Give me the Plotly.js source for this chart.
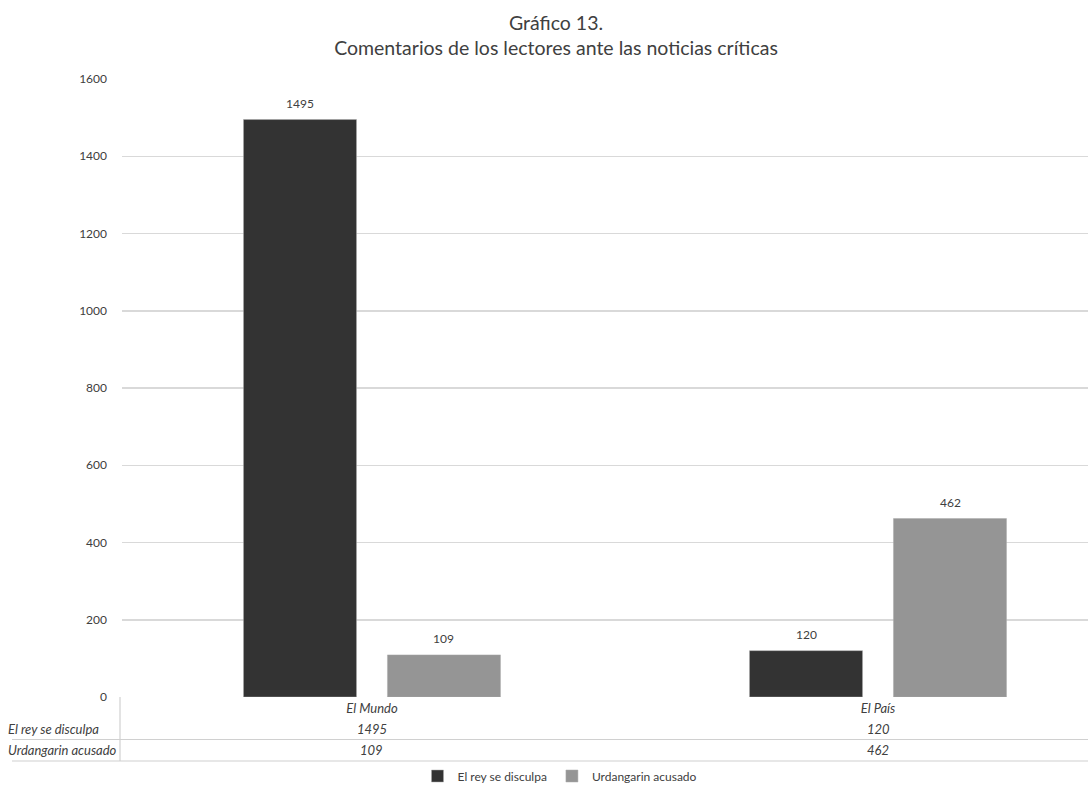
<!DOCTYPE html>
<html>
<head>
<meta charset="utf-8">
<script src="https://cdn.plot.ly/plotly-3.0.1.min.js"></script>
<style>html,body{margin:0;padding:0;background:#fff;}#chart{width:1088px;height:787px;}</style>
</head>
<body>
<div id="chart"></div>
<script>
const categories = ['El Mundo', 'El País'];
const seriesNames = ['El rey se disculpa', 'Urdangarin acusado'];
const reyValues = [1495, 120];
const urdangarinValues = [109, 462];
const yTicks = [0, 200, 400, 600, 800, 1000, 1200, 1400, 1600];
const colors = ['#333333', '#959595'];

const FONT = 'Lato, "Open Sans", sans-serif';
const W = 1088, L = 122, PW = W - L;
const px = p => (p - L) / PW;
const py = p => (697 - p) / 618;

const series = [reyValues, urdangarinValues];
const traces = series.map((vals, i) => ({
  type: 'bar', name: seriesNames[i], x: categories, y: vals,
  marker: {color: colors[i], line: {color: '#aaaaaa', width: 0.5}},
  hoverinfo: 'x+y'
}));

const annotations = [];
// data labels
series.forEach((vals, i) => {
  vals.forEach((v, j) => {
    annotations.push({x: categories[j], y: v, xref: 'x', yref: 'y', text: String(v),
      showarrow: false, yanchor: 'bottom', yshift: 7, xshift: i === 0 ? -72 : 72,
      font: {family: FONT, size: 12, color: '#404040'}});
  });
});
// data table
const rowY = [py(729), py(750)];
series.forEach((vals, i) => {
  annotations.push({x: px(6), y: rowY[i], xref: 'paper', yref: 'paper', text: seriesNames[i],
    showarrow: false, xanchor: 'left', yanchor: 'middle',
    font: {family: FONT, size: 13, color: '#404040', style: 'italic'}});
  vals.forEach((v, j) => {
    annotations.push({x: categories[j], y: rowY[i], xref: 'x', yref: 'paper', text: String(v),
      showarrow: false, xanchor: 'center', yanchor: 'middle',
      font: {family: FONT, size: 13, color: '#404040', style: 'italic'}});
  });
});

const shapes = [
  {type: 'line', xref: 'paper', yref: 'paper', x0: px(12), x1: 1.0, y0: py(739.5), y1: py(739.5), line: {color: '#d0d0d0', width: 1.2}},
  {type: 'line', xref: 'paper', yref: 'paper', x0: px(12), x1: 1.0, y0: py(761), y1: py(761), line: {color: '#d0d0d0', width: 1.2}},
  {type: 'line', xref: 'paper', yref: 'paper', x0: px(120), x1: px(120), y0: py(697), y1: py(761), line: {color: '#d0d0d0', width: 1.2}}
];

const layout = {
  width: 1088, height: 787,
  paper_bgcolor: '#ffffff', plot_bgcolor: '#ffffff',
  margin: {l: L, r: 0, t: 79, b: 90, pad: 0},
  title: {text: 'Gráfico 13.<br>Comentarios de los lectores ante las noticias críticas',
    x: 556 / 1088, xref: 'container', xanchor: 'center', y: 1 - 30 / 787, yref: 'container', yanchor: 'middle',
    font: {family: FONT, size: 19.5, color: '#404040'}},
  barmode: 'group', bargap: 0.431, bargroupgap: 0.215,
  xaxis: {type: 'category', range: [-0.494, 1.415], showgrid: false, showline: false, ticks: '',
    ticklabelstandoff: 2,
    tickfont: {family: FONT, size: 13, color: '#404040', style: 'italic'}, fixedrange: true},
  yaxis: {range: [0, 1600], tickvals: yTicks, ticktext: yTicks.map(String), showgrid: true,
    gridcolor: '#d9d9d9', gridwidth: 1.5, zeroline: true, zerolinecolor: '#ffffff', showline: false,
    ticks: '', ticklabelstandoff: 14, tickfont: {family: FONT, size: 12, color: '#404040'}},
  showlegend: true,
  legend: {orientation: 'h', x: px(560), xanchor: 'center', yref: 'container', y: 11 / 787, yanchor: 'middle',
    font: {family: FONT, size: 12, color: '#404040'}, itemwidth: 30, traceorder: 'normal',
    tracegroupgap: 0, borderwidth: 0},
  annotations: annotations, shapes: shapes
};

Plotly.newPlot('chart', traces, layout, {displayModeBar: false, staticPlot: true});
</script>
</body>
</html>
